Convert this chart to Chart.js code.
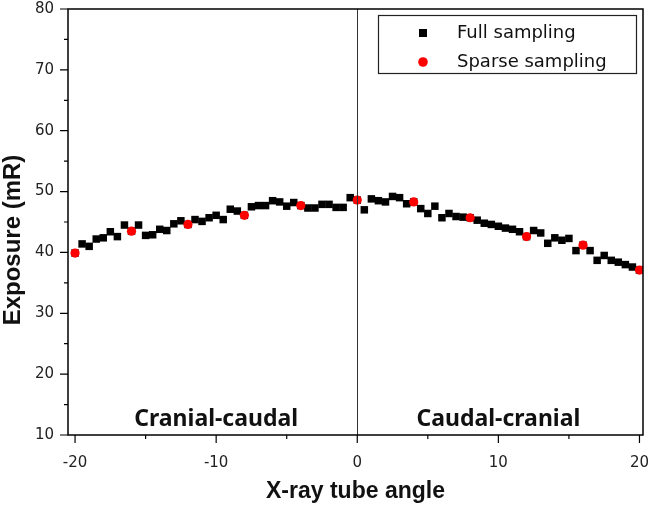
<!DOCTYPE html>
<html lang="en">
<head>
  <meta charset="UTF-8" />
  <title>Exposure vs X-ray tube angle</title>
  <script src="https://cdn.jsdelivr.net/npm/chart.js"></script>
  <style>
    html, body { margin: 0; padding: 0; background: #ffffff; }
    #wrap { position: relative; width: 649px; height: 505px; }
  </style>
</head>
<body>
  <div id="wrap"><canvas id="chart"></canvas></div>
  <script>
    // full sampling, every 0.5 degree
    const fullAngles = [
      -20, -19.5, -19, -18.5, -18, -17.5, -17, -16.5, -16, -15.5,
      -15, -14.5, -14, -13.5, -13, -12.5, -12, -11.5, -11, -10.5,
      -10, -9.5, -9, -8.5, -8, -7.5, -7, -6.5, -6, -5.5,
      -5, -4.5, -4, -3.5, -3, -2.5, -2, -1.5, -1, -0.5,
      0, 0.5, 1, 1.5, 2, 2.5, 3, 3.5, 4, 4.5,
      5, 5.5, 6, 6.5, 7, 7.5, 8, 8.5, 9, 9.5,
      10, 10.5, 11, 11.5, 12, 12.5, 13, 13.5, 14, 14.5,
      15, 15.5, 16, 16.5, 17, 17.5, 18, 18.5, 19, 19.5, 20
    ];
    const fullExposure = [
      39.9, 41.4, 41.0, 42.2, 42.4, 43.4, 42.6, 44.5, 43.5, 44.5,
      42.8, 42.9, 43.8, 43.6, 44.7, 45.2, 44.6, 45.4, 45.1, 45.7,
      46.1, 45.4, 47.1, 46.8, 46.1, 47.5, 47.7, 47.7, 48.5, 48.3,
      47.6, 48.2, 47.7, 47.3, 47.3, 47.9, 47.9, 47.4, 47.4, 49.0,
      48.6, 47.0, 48.8, 48.5, 48.3, 49.2, 49.0, 48.0, 48.3, 47.2,
      46.4, 47.6, 45.7, 46.4, 45.9, 45.8, 45.7, 45.3, 44.8, 44.6,
      44.3, 44.0, 43.8, 43.4, 42.6, 43.6, 43.2, 41.5, 42.4, 42.0,
      42.3, 40.3, 41.2, 40.3, 38.7, 39.5, 38.7, 38.4, 38.0, 37.6, 37.1
    ];

    // sparse sampling, every 4 degrees
    const sparseAngles = [-20, -16, -12, -8, -4, 0, 4, 8, 12, 16, 20];
    const sparseExposure = [39.9, 43.5, 44.6, 46.1, 47.7, 48.6, 48.3, 45.7, 42.6, 41.2, 37.1];

    const xTicks = [-20, -10, 0, 10, 20];
    const xMinorTicks = [-15, -5, 5, 15];
    const yTicks = [10, 20, 30, 40, 50, 60, 70, 80];
    const yMinorTicks = [15, 25, 35, 45, 55, 65, 75];

    const regionLabels = ['Cranial-caudal', 'Caudal-cranial'];
    const regionAngles = [-10, 10];
    const yTitle = 'Exposure (mR)';

    const toPoints = (xs, ys) => xs.map((x, i) => ({ x: x, y: ys[i] }));

    // frame, outward ticks, zero line, region labels, y title and legend box
    const decor = {
      id: 'decor',
      afterDatasetsDraw(chart) {
        const ctx = chart.ctx;
        const a = chart.chartArea;
        const xs = chart.scales.x, ys = chart.scales.y;
        ctx.save();

        // zero line
        const x0 = xs.getPixelForValue(0);
        ctx.strokeStyle = '#333';
        ctx.lineWidth = 1;
        ctx.beginPath();
        ctx.moveTo(Math.round(x0) + 0.5, a.top);
        ctx.lineTo(Math.round(x0) + 0.5, a.bottom);
        ctx.stroke();

        // frame
        ctx.strokeStyle = '#000';
        ctx.lineWidth = 1.5;
        ctx.strokeRect(a.left, a.top, a.right - a.left, a.bottom - a.top);

        // ticks
        ctx.lineWidth = 1.2;
        ctx.beginPath();
        xTicks.forEach(v => { const p = xs.getPixelForValue(v); ctx.moveTo(p, a.bottom); ctx.lineTo(p, a.bottom + 8); });
        xMinorTicks.forEach(v => { const p = xs.getPixelForValue(v); ctx.moveTo(p, a.bottom); ctx.lineTo(p, a.bottom + 4); });
        yTicks.forEach(v => { const p = ys.getPixelForValue(v); ctx.moveTo(a.left, p); ctx.lineTo(a.left - 8, p); });
        yMinorTicks.forEach(v => { const p = ys.getPixelForValue(v); ctx.moveTo(a.left, p); ctx.lineTo(a.left - 4, p); });
        ctx.stroke();

        // region labels
        ctx.fillStyle = '#111';
        ctx.font = 'bold 23px "Noto Sans"';
        ctx.textAlign = 'center';
        ctx.textBaseline = 'middle';
        regionLabels.forEach((t, i) => {
          ctx.fillText(t, xs.getPixelForValue(regionAngles[i]), ys.getPixelForValue(12.5));
        });

        // y axis title
        ctx.save();
        ctx.translate(13, 240);
        ctx.rotate(-Math.PI / 2);
        ctx.font = 'bold 24px "Liberation Sans"';
        ctx.fillText(yTitle, 0, 0);
        ctx.restore();

        // legend
        ctx.strokeStyle = '#222';
        ctx.lineWidth = 1.2;
        ctx.strokeRect(378.5, 15.5, 258, 58);
        ctx.font = '18px "DejaVu Sans"';
        ctx.textAlign = 'left';
        const ds = chart.data.datasets;
        [0, 1].forEach(i => {
          const cy = 33 + i * 29;
          ctx.fillStyle = ds[i].backgroundColor;
          if (ds[i].pointStyle === 'rect') {
            ctx.fillRect(419, cy - 4, 8, 8);
          } else {
            ctx.beginPath();
            ctx.arc(423, cy, 4.8, 0, Math.PI * 2);
            ctx.fill();
          }
          ctx.fillStyle = '#111';
          ctx.fillText(ds[i].label, 457, cy);
        });

        ctx.restore();
      }
    };

    const noPad = s => { s.paddingTop = 0; s.paddingBottom = 0; s.paddingLeft = 0; s.paddingRight = 0; };

    new Chart(document.getElementById('chart'), {
      type: 'scatter',
      data: {
        datasets: [
          {
            label: 'Full sampling',
            data: toPoints(fullAngles, fullExposure),
            pointStyle: 'rect',
            pointRadius: 5.3,
            backgroundColor: '#000000',
            borderColor: '#000000',
            borderWidth: 0,
            order: 2
          },
          {
            label: 'Sparse sampling',
            data: toPoints(sparseAngles, sparseExposure),
            pointStyle: 'circle',
            pointRadius: 4.6,
            backgroundColor: '#ff0000',
            borderColor: '#ff0000',
            borderWidth: 0,
            order: 1
          }
        ]
      },
      options: {
        responsive: true,
        maintainAspectRatio: false,
        animation: false,
        events: [],
        layout: { padding: { top: 9, right: 6, left: 0, bottom: 0 } },
        plugins: {
          legend: { display: false },
          tooltip: { enabled: false }
        },
        scales: {
          x: {
            type: 'linear',
            min: -20.5,
            max: 20.25,
            afterBuildTicks: s => { s.ticks = xTicks.map(v => ({ value: v })); },
            afterFit: s => { s.height = 70; noPad(s); },
            grid: { display: false, drawTicks: false },
            border: { display: false },
            ticks: {
              padding: 19,
              color: '#222',
              font: { family: 'DejaVu Sans', size: 15 },
              maxRotation: 0
            },
            title: {
              display: true,
              text: 'X-ray tube angle',
              color: '#111',
              font: { family: 'Liberation Sans', size: 23, weight: 'bold' },
              padding: { top: 0, bottom: 0 }
            }
          },
          y: {
            min: 10,
            max: 80,
            afterBuildTicks: s => { s.ticks = yTicks.map(v => ({ value: v })); },
            afterFit: s => { s.width = 68; noPad(s); },
            grid: { display: false, drawTicks: false },
            border: { display: false },
            ticks: {
              padding: 14,
              color: '#222',
              font: { family: 'DejaVu Sans', size: 15 }
            }
          }
        }
      },
      plugins: [decor]
    });
  </script>
</body>
</html>
